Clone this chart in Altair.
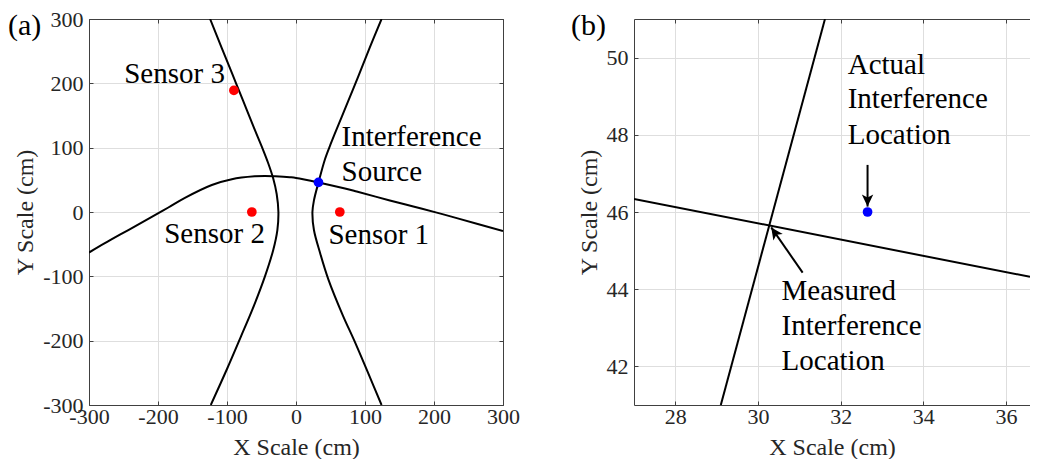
import math
import altair as alt
import pandas as pd

FONT = "Liberation Serif"
INK = "#262626"
BOX = "#404040"
GRID = "#dedede"

# ---------------- Panel (a) data ----------------
a_curve1_x = [-300, -277, -243, -209, -185, -161, -122, -93, -60, -45, -30, -9, 0, 32.6, 71, 88, 136, 170, 204, 233, 300]
a_curve1_y = [-63, -48.5, -28, -7.5, 7, 22, 42, 51, 55.4, 56, 55.4, 54, 53, 46, 36.5, 31.8, 18, 8.5, -1, -9.5, -29.5]

a_curve2_x = [-124.5, -108, -92.5, -77, -61, -49, -40, -33, -28, -25.5, -27, -33, -45, -63, -80, -100, -123.5]
a_curve2_y = [300, 256, 215, 174, 131, 100, 75, 52, 28, 0, -28, -59, -100, -151, -194, -244, -300]

a_curve3_x = [124, 107, 90, 72.5, 55.5, 50, 42, 32.6, 26, 23.8, 26, 35, 47, 68, 84.5, 106, 124]
a_curve3_y = [300, 256, 210, 164, 120, 105, 82, 46, 18, 0, -28, -64, -105, -161, -200, -254, -300]

a_sensor_x = [63.5, -64, -90]
a_sensor_y = [0, 0, 189]
a_source_x = [32.6]
a_source_y = [46]

a_text = ["Sensor 3", "Interference", "Source", "Sensor 2", "Sensor 1"]
a_text_x = [-249, 66, 66, -191, 47]
a_text_y = [201, 102.6, 48.8, -48.7, -50]

a_ticks = [-300, -200, -100, 0, 100, 200, 300]

# ---------------- Panel (b) data ----------------
b_line1_x = [29.1, 31.62]
b_line1_y = [41.0, 51.0]
b_line2_x = [27.0, 36.58]
b_line2_y = [46.34, 44.32]

b_actual_x = [32.65]
b_actual_y = [46.0]

b_text = ["Actual", "Interference", "Location", "Measured", "Interference", "Location"]
b_text_x = [32.17, 32.17, 32.17, 30.57, 30.57, 30.57]
b_text_y = [49.58, 48.69, 47.77, 43.71, 42.82, 41.91]

b_arrow_x1 = [32.65, 31.08]
b_arrow_y1 = [47.22, 44.43]
b_arrow_x2 = [32.65, 30.32]
b_arrow_y2 = [46.14, 45.60]

b_xticks = [28, 30, 32, 34, 36]
b_yticks = [42, 44, 46, 48, 50]

# ---------------- layout / style ----------------
A_W, A_H = 414, 386
B_W, B_H = 396, 386
A_XDOM, A_YDOM = [-300, 300], [-300, 300]
B_XDOM, B_YDOM = [27, 36.58], [41, 51]
HEAD = "M0,0 L-0.95,-2 L0,-1.5 L0.95,-2 Z"


def main_axis(values, title, orient, label_pad, title_pad):
    return alt.Axis(
        orient=orient, values=values, title=title,
        grid=True, gridColor=GRID, gridWidth=1,
        ticks=False, domain=True, domainColor=BOX, domainWidth=1,
        labelFont=FONT, labelFontSize=22, labelColor=INK,
        labelPadding=label_pad, labelFlush=False, labelOverlap=False,
        labelExpr="'' + datum.value",
        titleFont=FONT, titleFontSize=24, titleFontWeight="normal",
        titleColor=INK, titlePadding=title_pad,
    )


def tick_axis(values, orient, offset, domain):
    return alt.Axis(
        orient=orient, offset=offset, values=values, title=None,
        grid=False, labels=False, ticks=True, tickSize=4,
        tickColor=BOX, tickWidth=1,
        domain=domain, domainColor=BOX, domainWidth=1,
    )


def curves_frame(curves):
    rows = []
    for cid, (xs, ys) in enumerate(curves):
        for i, (xv, yv) in enumerate(zip(xs, ys)):
            rows.append({"x": xv, "y": yv, "curve": cid, "order": i})
    return pd.DataFrame(rows)


# ---------------- Panel (a) ----------------
ax_s = alt.Scale(domain=A_XDOM, nice=False, zero=False)
ay_s = alt.Scale(domain=A_YDOM, nice=False, zero=False)

a_lines = alt.Chart(curves_frame([(a_curve1_x, a_curve1_y), (a_curve2_x, a_curve2_y),
                                  (a_curve3_x, a_curve3_y)])).mark_line(
    color="black", strokeWidth=2, clip=True, interpolate="catmull-rom"
).encode(
    x=alt.X("x:Q", scale=ax_s, axis=main_axis(a_ticks, "X Scale (cm)", "bottom", 1, 8)),
    y=alt.Y("y:Q", scale=ay_s, axis=main_axis(a_ticks, "Y Scale (cm)", "left", 6, 5)),
    detail="curve:N", order="order:Q",
)

a_sensors = alt.Chart(pd.DataFrame({"x": a_sensor_x, "y": a_sensor_y})).mark_circle(
    color="#ff0000", size=95, opacity=1
).encode(
    x=alt.X("x:Q", scale=ax_s, axis=tick_axis(a_ticks, "top", -A_H, False)),
    y=alt.Y("y:Q", scale=ay_s, axis=tick_axis(a_ticks, "right", -A_W, False)),
)

a_src = alt.Chart(pd.DataFrame({"x": a_source_x, "y": a_source_y})).mark_circle(
    color="#0000ff", size=95, opacity=1
).encode(
    x=alt.X("x:Q", scale=ax_s, axis=None),
    y=alt.Y("y:Q", scale=ay_s, axis=None),
)

a_txt = alt.Chart(pd.DataFrame({"x": a_text_x, "y": a_text_y, "t": a_text})).mark_text(
    align="left", baseline="alphabetic", font=FONT, fontSize=29, color="black"
).encode(
    x=alt.X("x:Q", scale=ax_s, axis=tick_axis(a_ticks, "bottom", -A_H, True)),
    y=alt.Y("y:Q", scale=ay_s, axis=tick_axis(a_ticks, "left", -A_W, True)),
    text="t:N",
)

a_tag = alt.Chart(pd.DataFrame({"t": ["(a)"]})).mark_text(
    align="left", baseline="alphabetic", font=FONT, fontSize=30, color="black"
).encode(x=alt.value(-81), y=alt.value(16), text="t:N")

panel_a = alt.layer(a_lines, a_sensors, a_src, a_txt, a_tag).resolve_axis(
    x="independent", y="independent"
).properties(width=A_W, height=A_H)

# ---------------- Panel (b) ----------------
bx_s = alt.Scale(domain=B_XDOM, nice=False, zero=False)
by_s = alt.Scale(domain=B_YDOM, nice=False, zero=False)

b_lines = alt.Chart(curves_frame([(b_line1_x, b_line1_y), (b_line2_x, b_line2_y)])).mark_line(
    color="black", strokeWidth=2, clip=True
).encode(
    x=alt.X("x:Q", scale=bx_s, axis=main_axis(b_xticks, "X Scale (cm)", "bottom", 1, 8)),
    y=alt.Y("y:Q", scale=by_s, axis=main_axis(b_yticks, "Y Scale (cm)", "left", 6, 5)),
    detail="curve:N", order="order:Q",
)

b_dot = alt.Chart(pd.DataFrame({"x": b_actual_x, "y": b_actual_y})).mark_circle(
    color="#0000ff", size=95, opacity=1
).encode(
    x=alt.X("x:Q", scale=bx_s, axis=tick_axis(b_xticks, "top", -B_H, False)),
    y=alt.Y("y:Q", scale=by_s, axis=tick_axis(b_yticks, "right", -B_W, False)),
)

b_txt = alt.Chart(pd.DataFrame({"x": b_text_x, "y": b_text_y, "t": b_text})).mark_text(
    align="left", baseline="alphabetic", font=FONT, fontSize=29, color="black"
).encode(
    x=alt.X("x:Q", scale=bx_s, axis=tick_axis(b_xticks, "bottom", -B_H, True)),
    y=alt.Y("y:Q", scale=by_s, axis=None),
    text="t:N",
)

px_x = B_W / (B_XDOM[1] - B_XDOM[0])
px_y = B_H / (B_YDOM[1] - B_YDOM[0])
angles = []
for x1, y1, x2, y2 in zip(b_arrow_x1, b_arrow_y1, b_arrow_x2, b_arrow_y2):
    dx = (x2 - x1) * px_x
    dy = -(y2 - y1) * px_y
    L = math.hypot(dx, dy)
    ux, uy = dx / L, dy / L
    angles.append(math.degrees(math.atan2(-ux, uy)) % 360)

arrows_df = pd.DataFrame({"x1": b_arrow_x1, "y1": b_arrow_y1, "x2": b_arrow_x2,
                          "y2": b_arrow_y2, "ang": angles})

b_shaft = alt.Chart(arrows_df).mark_rule(color="black", strokeWidth=2).encode(
    x=alt.X("x1:Q", scale=bx_s, axis=None),
    y=alt.Y("y1:Q", scale=by_s, axis=None),
    x2="x2:Q", y2="y2:Q",
)

b_head = alt.Chart(arrows_df).mark_point(
    shape=HEAD, filled=True, color="black", size=144, opacity=1, strokeWidth=0
).encode(
    x=alt.X("x2:Q", scale=bx_s, axis=None),
    y=alt.Y("y2:Q", scale=by_s, axis=None),
    angle=alt.Angle("ang:Q", scale=None),
)

b_tag = alt.Chart(pd.DataFrame({"t": ["(b)"]})).mark_text(
    align="left", baseline="alphabetic", font=FONT, fontSize=30, color="black"
).encode(x=alt.value(-63), y=alt.value(16), text="t:N")

panel_b = alt.layer(b_lines, b_dot, b_txt, b_shaft, b_head, b_tag).resolve_axis(
    x="independent", y="independent"
).properties(width=B_W, height=B_H)

chart = alt.hconcat(panel_a, panel_b, spacing=131, bounds="flush", padding=0).configure_view(
    strokeWidth=0
)

chart.save("out.html", embed_options={"renderer": "svg", "actions": False})
